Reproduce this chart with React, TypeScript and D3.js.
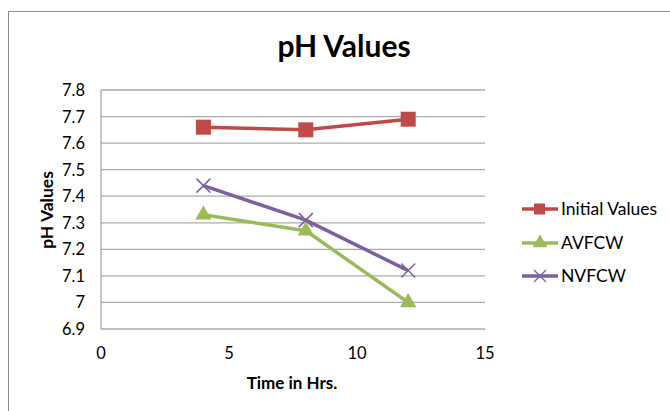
import React from "react";
import * as d3 from "d3";

const hours = [4, 8, 12];
const initialValues = [7.66, 7.65, 7.69];
const avfcw = [7.33, 7.27, 7.0];
const nvfcw = [7.44, 7.31, 7.12];
const yTicks = [6.9, 7, 7.1, 7.2, 7.3, 7.4, 7.5, 7.6, 7.7, 7.8];
const xTicks = [0, 5, 10, 15];
const seriesNames = ["Initial Values", "AVFCW", "NVFCW"];

const W = 670;
const H = 411;
const FONT = "Lato, 'Open Sans', sans-serif";

export default function App() {
  const x = d3.scaleLinear().domain([0, 15]).range([101, 485]);
  const y = d3.scaleLinear().domain([6.9, 7.8]).range([329, 90]);
  const line = d3
    .line<[number, number]>()
    .x((d) => x(d[0]))
    .y((d) => y(d[1]));

  const series = [
    { name: seriesNames[0], values: initialValues, color: "#BE4B48", marker: "square" },
    { name: seriesNames[1], values: avfcw, color: "#9BBB59", marker: "triangle" },
    { name: seriesNames[2], values: nvfcw, color: "#7D60A0", marker: "x" },
  ];

  const marker = (type: string, cx: number, cy: number, color: string, key: string) => {
    if (type === "square")
      return <rect key={key} x={cx - 7.5} y={cy - 7.5} width={15} height={15} fill={color} />;
    if (type === "triangle") {
      const tri = d3.symbol().type(d3.symbolTriangle).size(115)();
      return <path key={key} d={tri as string} transform={`translate(${cx},${cy})`} fill={color} />;
    }
    return (
      <g key={key} stroke={color} strokeWidth={1.5}>
        <line x1={cx - 7} y1={cy - 7} x2={cx + 7} y2={cy + 7} />
        <line x1={cx - 7} y1={cy + 7} x2={cx + 7} y2={cy - 7} />
      </g>
    );
  };

  const legendY = [209, 243, 276];

  return (
    <svg width={W} height={H} style={{ position: "absolute", left: 0, top: 0 }} fontFamily={FONT}>
      <rect x={0} y={0} width={W} height={H} fill="#fff" />
      <rect x={8.5} y={11.5} width={W} height={H} fill="none" stroke="#8c8c8c" strokeWidth={1} />
      <text x={344} y={57} textAnchor="middle" fontSize={30} fontWeight="bold" fill="#000">
        pH Values
      </text>
      {yTicks.map((t) => (
        <g key={t}>
          <line x1={x(0)} x2={x(15)} y1={y(t)} y2={y(t)} stroke="#ababab" strokeWidth={1.3} />
          <text x={85} y={y(t) + 6} textAnchor="end" fontSize={16.5} fill="#000">
            {d3.format("~g")(t)}
          </text>
        </g>
      ))}
      <line x1={x(0)} x2={x(0)} y1={y(7.8)} y2={y(6.9)} stroke="#ababab" strokeWidth={1.3} />
      {xTicks.map((t) => (
        <text key={t} x={x(t)} y={359} textAnchor="middle" fontSize={16.5} fill="#000">
          {t}
        </text>
      ))}
      <text x={292} y={389} textAnchor="middle" fontSize={17} fontWeight="bold" fill="#000">
        Time in Hrs.
      </text>
      <text
        transform={`translate(53,210) rotate(-90)`}
        textAnchor="middle"
        fontSize={17.5}
        fontWeight="bold"
        fill="#000"
      >
        pH Values
      </text>
      {series.map((s) => (
        <g key={s.name}>
          <path
            d={line(hours.map((h, i) => [h, s.values[i]] as [number, number])) as string}
            fill="none"
            stroke={s.color}
            strokeWidth={3.5}
            strokeLinejoin="round"
          />
          {hours.map((h, i) => marker(s.marker, x(h), y(s.values[i]), s.color, s.name + i))}
        </g>
      ))}
      {series.map((s, i) => (
        <g key={"lg" + s.name}>
          <line x1={522} x2={558} y1={legendY[i]} y2={legendY[i]} stroke={s.color} strokeWidth={3.5} />
          {s.marker === "square" ? (
            <rect x={534} y={legendY[i] - 5.5} width={11} height={11} fill={s.color} />
          ) : s.marker === "triangle" ? (
            <path
              d={d3.symbol().type(d3.symbolTriangle).size(95)() as string}
              transform={`translate(540,${legendY[i]})`}
              fill={s.color}
            />
          ) : (
            <g stroke={s.color} strokeWidth={1.2}>
              <line x1={534} y1={legendY[i] - 6} x2={546} y2={legendY[i] + 6} />
              <line x1={534} y1={legendY[i] + 6} x2={546} y2={legendY[i] - 6} />
            </g>
          )}
          <text x={561} y={legendY[i] + 6} fontSize={17.5} fill="#000">
            {s.name}
          </text>
        </g>
      ))}
    </svg>
  );
}
